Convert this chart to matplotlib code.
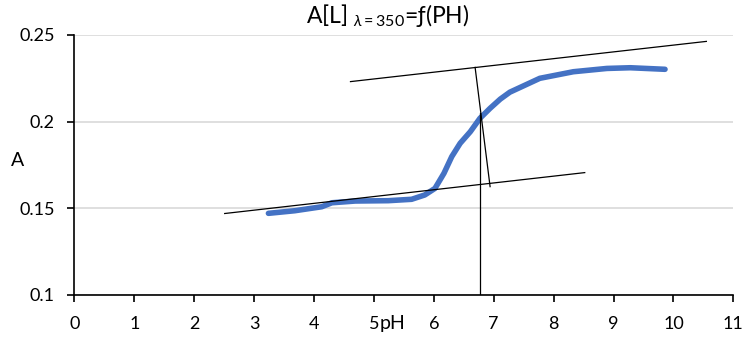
import matplotlib
matplotlib.use("Agg")
import matplotlib.pyplot as plt

plt.rcParams['font.family'] = ['Lato', 'DejaVu Sans']
plt.rcParams['mathtext.fontset'] = 'custom'
plt.rcParams['mathtext.rm'] = 'Lato'
plt.rcParams['mathtext.it'] = 'Lato:italic'

# absorbance curve
ph = [3.24, 3.68, 4.13, 4.30, 4.69, 5.24, 5.63, 5.85, 6.02, 6.17, 6.30, 6.44,
      6.61, 6.77, 6.94, 7.11, 7.27, 7.77, 8.33, 8.89, 9.28, 9.86]
absorb = [0.1471, 0.1486, 0.1509, 0.1532, 0.1542, 0.1544, 0.1552, 0.1577, 0.1615,
          0.1702, 0.1798, 0.1875, 0.1942, 0.2019, 0.2077, 0.2130, 0.2170, 0.2250,
          0.2288, 0.2307, 0.2311, 0.2302]

# construction lines (tangents and the inflection marker)
lower_x = [2.51, 8.52]
lower_y = [0.1470, 0.1706]
upper_x = [4.61, 10.55]
upper_y = [0.2231, 0.2463]
cross_x = [6.69, 6.94]
cross_y = [0.2313, 0.1625]
vert_x = [6.77, 6.77]
vert_y = [0.205, 0.1]

xticks = list(range(0, 12))
yticks = [0.1, 0.15, 0.2, 0.25]
ytick_labels = ['0.1', '0.15', '0.2', '0.25']

fig = plt.figure(figsize=(7.56, 3.45), dpi=100)
ax = fig.add_axes([0.0983, 0.145, 0.8717, 0.7536])

ax.plot(ph, absorb, color='#4472c4', lw=4.0, solid_capstyle='round',
        solid_joinstyle='round', zorder=3)
for xs, ys in [(lower_x, lower_y), (upper_x, upper_y), (cross_x, cross_y), (vert_x, vert_y)]:
    ax.plot(xs, ys, color='black', lw=0.9, zorder=4)

ax.set_xlim(0, 11)
ax.set_ylim(0.1, 0.25)
ax.set_xticks(xticks)
ax.set_yticks(yticks)
ax.set_yticklabels(ytick_labels)
ax.grid(axis='y', color='#d9d9d9', lw=1.2)
ax.set_axisbelow(True)
for s in ['top', 'right']:
    ax.spines[s].set_visible(False)
for s in ['left', 'bottom']:
    ax.spines[s].set_color('black')
    ax.spines[s].set_linewidth(1.2)
ax.tick_params(axis='both', direction='out', length=5, width=1.2, labelsize=13,
               colors='black')
ax.tick_params(axis='x', pad=10)
ax.tick_params(axis='y', pad=9)

ax.text(-0.95, 0.1775, 'A', fontsize=14, ha='center', va='center')
ax.text(5.1, 0.0835, 'pH', fontsize=14, ha='left', va='center')
fig.text(0.513, 0.955, r'A[L] $_{\lambda{=}350}$=ƒ(PH)', fontsize=16.5,
         ha='center', va='center')

fig.savefig('out.png', dpi=100)
